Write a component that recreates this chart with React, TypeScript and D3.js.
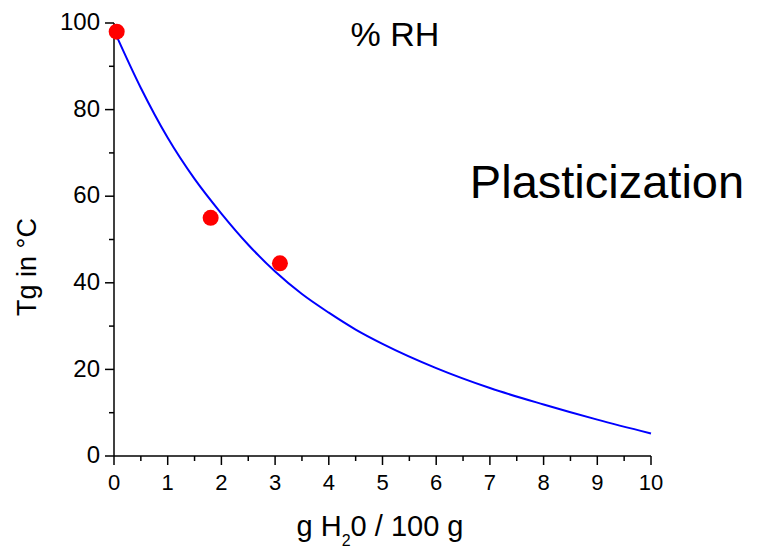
import React from 'react';
import * as d3 from 'd3';

const width = 758;
const height = 551;
const margin = { top: 23, right: 107, bottom: 95, left: 114 };

// fitted curve
const curveX = [0, 0.5, 1, 1.5, 2, 2.5, 3, 3.5, 4, 4.5, 5, 6, 7, 8, 9, 10];
const curveY = [98.3, 85, 73.5, 64, 56, 48.8, 42.6, 37.4, 33.1, 29.2, 25.9, 20.3, 15.7, 11.9, 8.4, 5.2];

// measured points
const pointX = [0.05, 1.8, 3.09];
const pointY = [98, 55, 44.5];

const xTicks = [0, 1, 2, 3, 4, 5, 6, 7, 8, 9, 10];
const yTicks = [0, 20, 40, 60, 80, 100];

const font = 'Liberation Sans, Arial, sans-serif';

const App = () => {
  const innerWidth = width - margin.left - margin.right;
  const innerHeight = height - margin.top - margin.bottom;

  const xScale = d3.scaleLinear().domain([0, 10]).range([0, innerWidth]);
  const yScale = d3.scaleLinear().domain([0, 100]).range([innerHeight, 0]);

  const curve = curveX.map((x, i) => [x, curveY[i]] as [number, number]);
  const path = d3
    .line<[number, number]>()
    .x(d => xScale(d[0]))
    .y(d => yScale(d[1]))
    .curve(d3.curveMonotoneX)(curve);

  const xMinor = d3.range(0.5, 10, 1);
  const yMinor = d3.range(10, 100, 20);

  return (
    <svg width={width} height={height} style={{ position: 'absolute', left: 0, top: 0, fontFamily: font }}>
      <rect width={width} height={height} fill="white" />
      <g transform={`translate(${margin.left},${margin.top})`}>
        {/* axes */}
        <line x1={0} x2={innerWidth} y1={innerHeight} y2={innerHeight} stroke="black" strokeWidth={1.5} />
        <line x1={0} x2={0} y1={0} y2={innerHeight} stroke="black" strokeWidth={1.5} />

        {xTicks.map(t => (
          <g key={t} transform={`translate(${xScale(t)},${innerHeight})`}>
            <line y2={9} stroke="black" strokeWidth={1.5} />
            <text y={34} textAnchor="middle" fontSize={22}>
              {t}
            </text>
          </g>
        ))}
        {xMinor.map(t => (
          <line key={t} x1={xScale(t)} x2={xScale(t)} y1={innerHeight} y2={innerHeight + 5} stroke="black" strokeWidth={1.5} />
        ))}

        {yTicks.map(t => (
          <g key={t} transform={`translate(0,${yScale(t)})`}>
            <line x2={-9} stroke="black" strokeWidth={1.5} />
            <text x={-14} dy="0.3em" textAnchor="end" fontSize={24}>
              {t}
            </text>
          </g>
        ))}
        {yMinor.map(t => (
          <line key={t} x1={0} x2={-5} y1={yScale(t)} y2={yScale(t)} stroke="black" strokeWidth={1.5} />
        ))}

        {/* marks */}
        <path d={path || ''} fill="none" stroke="#0000ff" strokeWidth={2} />
        {pointX.map((x, i) => (
          <circle key={i} cx={xScale(x)} cy={yScale(pointY[i])} r={8} fill="#ff0000" />
        ))}
      </g>

      <text x={395} y={46} textAnchor="middle" fontSize={34}>
        % RH
      </text>
      <text x={607} y={198} textAnchor="middle" fontSize={47}>
        Plasticization
      </text>

      <text x={380} y={536} textAnchor="middle" fontSize={29}>
        g H<tspan fontSize={16} dy={10}>2</tspan>
        <tspan dy={-10}>0 / 100 g</tspan>
      </text>
      <text transform={`translate(36,${267}) rotate(-90)`} textAnchor="middle" fontSize={27}>
        Tg in °C
      </text>
    </svg>
  );
};

export default App;
